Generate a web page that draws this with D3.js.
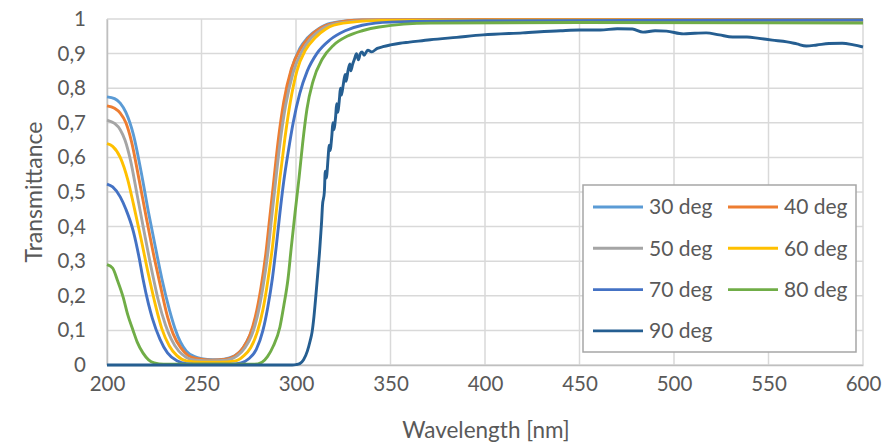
<!DOCTYPE html>
<html>
<head>
<meta charset="utf-8">
<script src="https://cdn.jsdelivr.net/npm/d3@7"></script>
<style>
  body { margin: 0; background: #fff; }
  svg { display: block; font-family: Lato, 'Open Sans', sans-serif; }
</style>
</head>
<body>
<svg width="894" height="446"></svg>
<script>
// data: [wavelength nm, transmittance]
let deg30 = [[200,.775],[204,.77],[207,.757],[210,.73],[214,.665],[218,.56],[222,.44],[226,.33],[229,.25],[233,.16],[236,.105],[239,.065],[242,.04],[246,.025],[250,.018],[256,.015],[262,.017],[267,.025],[271,.042],[274,.068],[277,.105],[280,.165],[282.5,.245],[285,.34],[287,.44],[289,.54],[291.5,.66],[294.5,.77],[298,.86],[302,.915],[306,.945],[312,.972],[318,.987],[335,.997],[400,.999],[600,.998]];
let deg40 = [[200,.749],[204,.742],[207,.728],[210,.7],[213,.645],[217,.535],[221,.42],[225,.31],[228,.235],[232,.14],[235,.09],[239,.05],[243,.027],[248,.018],[255,.014],[262,.016],[268,.028],[272,.05],[275.5,.085],[278.5,.14],[281.5,.225],[284,.32],[286,.42],[288,.52],[290.5,.645],[293.5,.76],[297.5,.855],[302,.91],[307,.948],[313,.974],[320,.988],[335,.997],[400,.999],[600,.998]];
let deg50 = [[200,.708],[204,.698],[207,.68],[209.5,.65],[212.5,.59],[216,.49],[220,.375],[224,.265],[227,.19],[231,.115],[234,.075],[238,.04],[242,.022],[247,.014],[255,.012],[263,.014],[269,.027],[273,.05],[276.5,.085],[279.5,.14],[282.5,.225],[285,.32],[287,.42],[289,.52],[291.5,.64],[294.5,.75],[298.5,.845],[303,.905],[308,.945],[314,.972],[322,.988],[340,.996],[600,.997]];
let deg60 = [[200,.64],[203,.632],[207,.6],[211,.535],[214,.465],[218,.365],[222,.26],[226,.165],[229,.105],[233,.055],[237,.027],[242,.012],[250,.008],[260,.008],[268,.012],[272,.025],[276,.05],[279.5,.095],[282.5,.16],[285,.24],[287.5,.34],[289.5,.44],[291.5,.54],[294,.65],[297,.76],[300.5,.85],[305,.91],[310,.945],[316,.972],[325,.988],[345,.996],[600,.997]];
let deg70 = [[200,.523],[203,.515],[207,.486],[210,.45],[214,.385],[217,.31],[219,.25],[222,.175],[224,.135],[228,.075],[232,.035],[237,.012],[242,.004],[250,.002],[265,.002],[271,.006],[275,.018],[279,.045],[282.5,.1],[285,.165],[287.5,.25],[289.5,.34],[291.5,.44],[293.5,.53],[296,.62],[298.5,.7],[302,.785],[306,.85],[311,.9],[318,.94],[326,.966],[335,.982],[350,.991],[400,.995],[600,.997]];
let deg80 = [[200,.29],[203,.28],[205.5,.245],[208.5,.197],[211,.145],[213.8,.1],[216,.066],[219,.035],[222,.015],[225,.006],[230,.002],[278,.002],[282,.008],[285,.025],[288,.055],[291.5,.11],[293.5,.17],[295.8,.25],[297.5,.34],[299.5,.44],[301.6,.54],[303.5,.64],[305.8,.74],[309,.82],[314,.885],[320,.925],[327,.95],[335,.966],[344,.977],[371,.988],[450,.99],[600,.988]];
let deg90 = [[200,0],[298,0],[300,.001],[302,.004],[304,.015],[306,.04],[307.5,.07],[308.5,.095],[309.5,.14],[310.5,.2],[311.6,.27],[312.5,.33],[313,.37],[313.5,.41],[314,.46],[315,.5],[315.5,.56],[316,.54],[317,.6],[317.5,.635],[318,.62],[319,.665],[319.5,.7],[320,.68],[321,.72],[321.5,.755],[322,.73],[323,.77],[323.5,.8],[324,.78],[325,.81],[326,.84],[326.5,.82],[327.5,.85],[328.5,.87],[329,.85],[330,.87],[331,.885],[332,.9],[333,.882],[334,.9],[335,.905],[336,.895],[338,.91],[340,.905],[343,.915],[346,.92],[350,.925],[355,.93],[360,.933],[371,.94],[385,.947],[399,.954],[420,.96],[440,.966],[450,.968],[461,.968],[470,.972],[478,.971],[483.6,.962],[490,.966],[496,.965],[505,.957],[511,.959],[517,.96],[524,.954],[531,.948],[538.6,.948],[545,.944],[552,.939],[559.8,.934],[565,.928],[570,.922],[575.6,.925],[582,.929],[589,.93],[595,.925],[600,.919]];

let seriesNames = ['30 deg', '40 deg', '50 deg', '60 deg', '70 deg', '80 deg', '90 deg'];
let seriesValues = [deg30, deg40, deg50, deg60, deg70, deg80, deg90];
let seriesColors = ['#5B9BD5', '#ED7D31', '#A5A5A5', '#FFC000', '#4472C4', '#70AD47', '#255E91'];
let xTicks = [200, 250, 300, 350, 400, 450, 500, 550, 600];
let yTicks = [0, 0.1, 0.2, 0.3, 0.4, 0.5, 0.6, 0.7, 0.8, 0.9, 1];

let svg = d3.select('svg'),
    margin = {top: 19, right: 31, bottom: 81, left: 107},
    width = +svg.attr('width') - margin.left - margin.right,
    height = +svg.attr('height') - margin.top - margin.bottom;

let x = d3.scaleLinear().domain([200, 600]).range([0, width]);
let y = d3.scaleLinear().domain([0, 1]).range([height, 0]);
let fmt = function(d) { return d3.format('.1~f')(d).replace('.', ','); };

let g = svg.append('g').attr('transform', 'translate(' + margin.left + ',' + margin.top + ')');

// gridlines
g.append('g').selectAll('line').data(yTicks).enter().append('line')
  .attr('x1', 0).attr('x2', width)
  .attr('y1', function(d) { return y(d); }).attr('y2', function(d) { return y(d); })
  .attr('stroke', '#d9d9d9').attr('stroke-width', 1.5);
g.append('g').selectAll('line').data(xTicks).enter().append('line')
  .attr('y1', 0).attr('y2', height)
  .attr('x1', function(d) { return x(d); }).attr('x2', function(d) { return x(d); })
  .attr('stroke', '#d9d9d9').attr('stroke-width', 1.5);

// axes
let xAxis = g.append('g').attr('transform', 'translate(0,' + height + ')')
  .call(d3.axisBottom(x).tickValues(xTicks).tickSize(0).tickPadding(11));
let yAxis = g.append('g')
  .call(d3.axisLeft(y).tickValues(yTicks).tickSize(0).tickPadding(21).tickFormat(fmt));
[xAxis, yAxis].forEach(function(a) {
  a.select('.domain').attr('stroke', '#bfbfbf').attr('stroke-width', 1.5);
  a.selectAll('text').attr('fill', '#595959').attr('font-size', '20.5px').attr('font-family', 'Lato, sans-serif');
});

// lines
let line = d3.line()
  .x(function(d) { return x(d[0]); })
  .y(function(d) { return y(d[1]); })
  .curve(d3.curveMonotoneX);

g.append('g').selectAll('path').data(seriesValues).enter().append('path')
  .attr('d', line)
  .attr('fill', 'none')
  .attr('stroke', function(d, i) { return seriesColors[i]; })
  .attr('stroke-width', 2.9)
  .attr('stroke-linejoin', 'round');

// axis titles
svg.append('text').attr('x', 486).attr('y', 438)
  .attr('text-anchor', 'middle').attr('fill', '#595959').attr('font-size', '22.5px')
  .text('Wavelength [nm]');
svg.append('text').attr('transform', 'translate(42,' + (margin.top + height / 2) + ') rotate(-90)')
  .attr('text-anchor', 'middle').attr('fill', '#595959').attr('font-size', '23px')
  .text('Transmittance');

// legend
let legend = svg.append('g').attr('transform', 'translate(583,185)');
legend.append('rect').attr('width', 273).attr('height', 167)
  .attr('fill', '#fff').attr('stroke', '#a6a6a6').attr('stroke-width', 1.5);
let item = legend.selectAll('.item').data(seriesNames).enter().append('g')
  .attr('transform', function(d, i) { return 'translate(' + (10 + (i % 2) * 135) + ',' + (22 + Math.floor(i / 2) * 41.3) + ')'; });
item.append('line').attr('x1', 0).attr('x2', 50)
  .attr('stroke', function(d, i) { return seriesColors[i]; }).attr('stroke-width', 2.9);
item.append('text').attr('x', 56).attr('dy', '0.35em')
  .attr('fill', '#595959').attr('font-size', '21px')
  .text(function(d) { return d; });
</script>
</body>
</html>
